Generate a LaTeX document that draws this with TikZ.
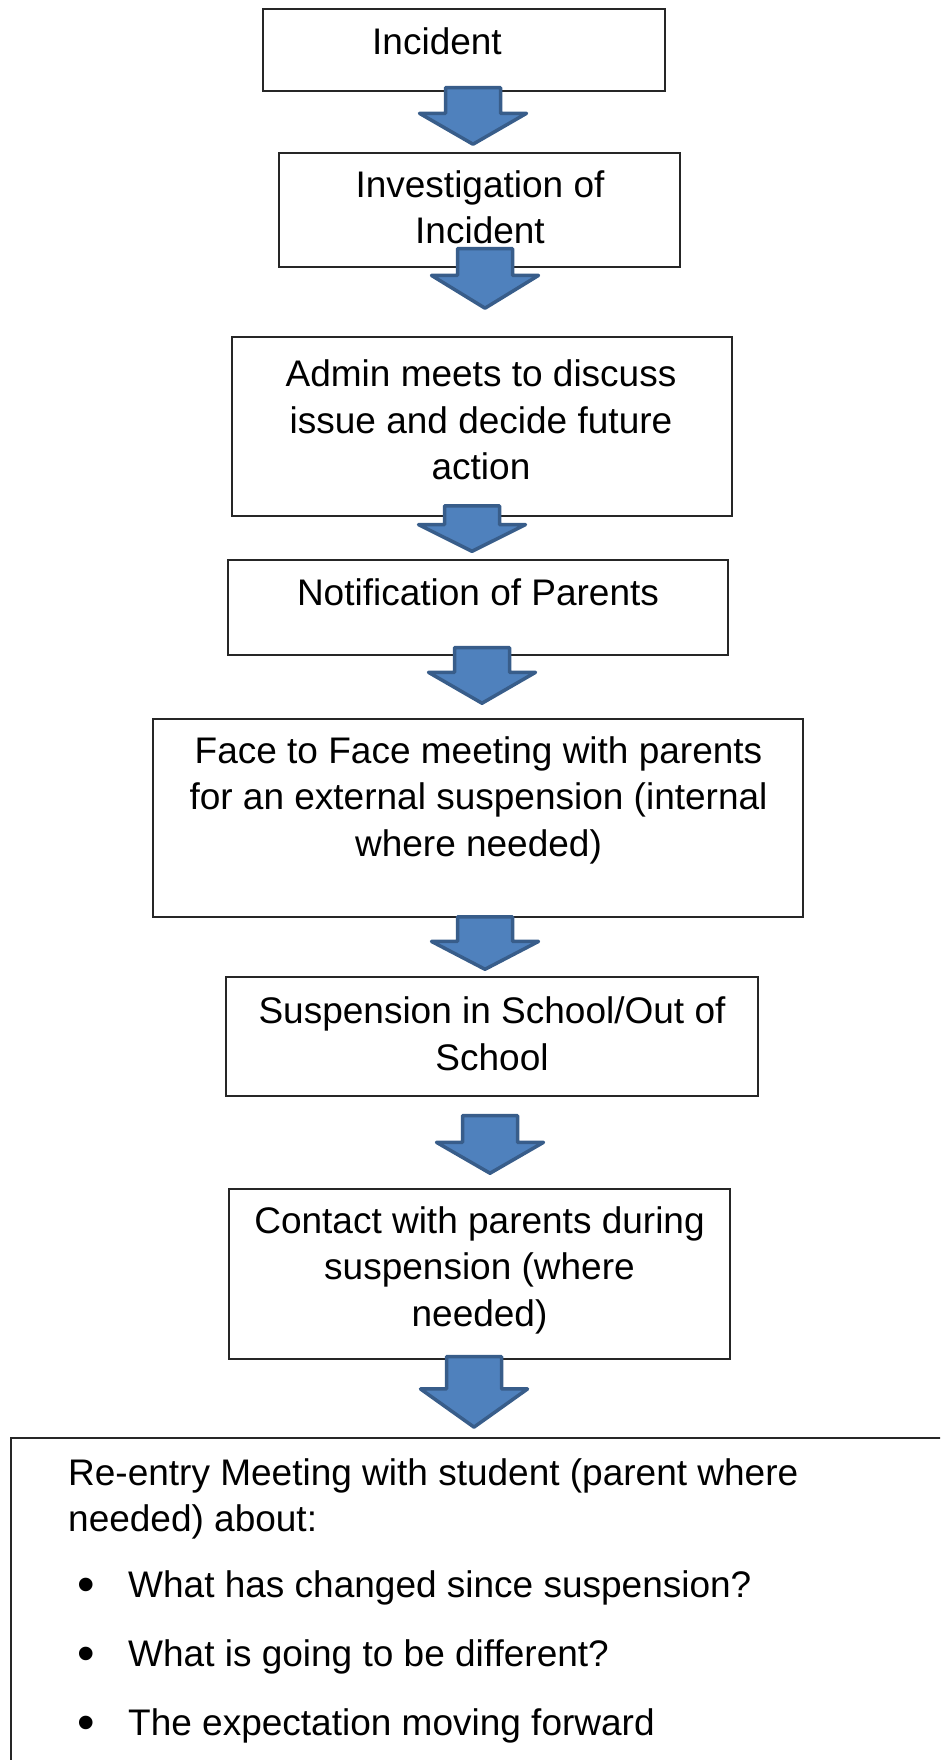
\documentclass[tikz,border=0pt]{standalone}
\usepackage{fontspec}
\usepackage{graphicx}
\setmainfont{Liberation Sans}
\usetikzlibrary{shapes.arrows}

\definecolor{arrowfill}{HTML}{4F81BD}
\definecolor{arrowline}{HTML}{385D8A}

% one bullet line of the last box
\newcommand{\bulletline}[1]{\hspace*{18pt}\makebox[0pt]{\raisebox{-4pt}{\scalebox{1.35}{\textbullet}}}\hspace*{42pt}#1}

\begin{document}
\begin{tikzpicture}[
    x=1pt, y=-1pt,
    box/.style={rectangle, draw=black!85, line width=1.6pt, fill=white, inner sep=0pt},
    txt/.style={align=center, inner sep=0pt, font=\fontsize{37}{46.5}\selectfont},
    bigarrow/.style={single arrow, rotate=-90, draw=arrowline, fill=arrowfill, line width=3.5pt, line join=round,
        inner xsep=0pt, inner ysep=25.75pt, text height=0pt, text depth=0pt,
        single arrow head extend=26pt, anchor=tip}
]
\clip (0,0) rectangle (940,1760);

% boxes
\node (incident) [box, minimum width=402pt, minimum height=82pt] at (464,50) {};
\node (invest) [box, minimum width=401pt, minimum height=114pt] at (479.5,210) {};
\node (admin) [box, minimum width=500pt, minimum height=179pt] at (482,426.5) {};
\node (notify) [box, minimum width=500pt, minimum height=95pt] at (478,607.5) {};
\node (meeting) [box, minimum width=650pt, minimum height=198pt] at (478,818) {};
\node (suspend) [box, minimum width=532pt, minimum height=119pt] at (492,1036.5) {};
\node (contact) [box, minimum width=501pt, minimum height=170pt] at (479.5,1274) {};
\node (reentry) [box, anchor=north west, minimum width=1000pt, minimum height=400pt] at (10,1437) {};

% texts
\node (incident-text) [txt] at (437,41) {Incident};
\node (invest-text) [txt] at (480,207.5) {Investigation of\\Incident};
\node (admin-text) [txt] at (481,420) {Admin meets to discuss\\issue and decide future\\action};
\node (notify-text) [txt] at (478,592) {Notification of Parents};
\node (meeting-text) [txt] at (478.5,800) {Face to Face meeting with parents\\for an external suspension (internal\\where needed)};
\node (suspend-text) [txt] at (492,1034) {Suspension in School/Out of\\School};
\node (contact-text) [txt] at (479.5,1270) {Contact with parents during\\suspension (where\\needed)};
\node (reentry-text) [txt, align=left, anchor=north west] at (68,1458) {Re-entry Meeting with student (parent where\\needed) about:\\[19pt]
    \bulletline{What has changed since suspension?}\\[23pt]
    \bulletline{What is going to be different?}\\[22pt]
    \bulletline{The expectation moving forward}};

% block arrows
\node (arrow1) [bigarrow, minimum height=56.5pt, single arrow tip angle=120] at (473,146.25) {};
\node (arrow2) [bigarrow, minimum height=59.5pt, single arrow tip angle=117] at (485,310.25) {};
\node (arrow3) [bigarrow, minimum height=45.5pt, single arrow tip angle=127] at (472,553.25) {};
\node (arrow4) [bigarrow, minimum height=55.5pt, single arrow tip angle=120] at (482,705.25) {};
\node (arrow5) [bigarrow, minimum height=52.5pt, single arrow tip angle=125] at (485,971.25) {};
\node (arrow6) [bigarrow, minimum height=57.5pt, single arrow tip angle=120] at (490,1175.25) {};
\node (arrow7) [bigarrow, minimum height=70.5pt, single arrow tip angle=109] at (474,1429.25) {};

\end{tikzpicture}
\end{document}
